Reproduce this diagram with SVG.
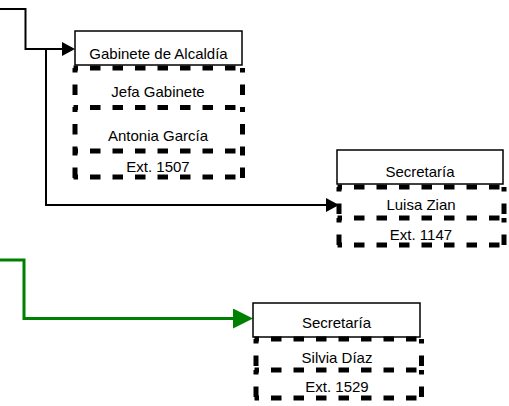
<svg xmlns="http://www.w3.org/2000/svg" width="509" height="406" viewBox="0 0 509 406">
<style>
.hdr{fill:#ffffff;stroke:#000000;stroke-width:1.5}
.cell{fill:none;stroke:#000000;stroke-width:5;stroke-dasharray:10.5 12;stroke-dashoffset:6}
.t{font-family:"Liberation Sans",Arial,sans-serif;font-size:15px;fill:#000000;text-anchor:middle}
.blk{fill:none;stroke:#000000;stroke-width:2}
.grn{fill:none;stroke:#008000;stroke-width:3}
</style>
<defs>
<marker id="ab" markerUnits="userSpaceOnUse" viewBox="0 0 13 14" refX="0" refY="7" markerWidth="13" markerHeight="14" orient="auto">
<path d="M0 0 L13 7 L0 14 Z" fill="#000000"/>
</marker>
<marker id="ag" markerUnits="userSpaceOnUse" viewBox="0 0 20 20" refX="0" refY="10" markerWidth="20" markerHeight="20" orient="auto">
<path d="M0 0 L20 10 L0 20 Z" fill="#008000"/>
</marker>
</defs>
<rect width="509" height="406" fill="#ffffff"/>
<g id="connectors">
<path class="blk" d="M0 9 H25.5 V49 H62" marker-end="url(#ab)"/>
<path class="blk" d="M46 49 V205 H326" marker-end="url(#ab)"/>
<path class="grn" d="M0 260 H24 V318.5 H233" marker-end="url(#ag)"/>
</g>
<g id="gabinete">
<rect class="hdr" x="75" y="31" width="167" height="34"/>
<text class="t" x="158.5" y="59">Gabinete de Alcaldía</text>
<path class="cell" d="M73.5 68 H245 M73.5 107.5 H245 M73.5 151 H245 M73.5 177 H245 M75 68 V107.5 M75 107.5 V151 M75 151 V179.5 M242.5 68 V107.5 M242.5 107.5 V151 M242.5 151 V179.5"/>
<text class="t" x="158" y="97">Jefa Gabinete</text>
<text class="t" x="158" y="141">Antonia García</text>
<text class="t" x="158" y="172">Ext. 1507</text>
</g>
<g id="secretaria1">
<rect class="hdr" x="337" y="150" width="166" height="34"/>
<text class="t" x="420" y="177">Secretaría</text>
<path class="cell" d="M337.5 187 H506.5 M337.5 218 H506.5 M337.5 245 H506.5 M339 187 V218 M339 218 V247.5 M504 187 V218 M504 218 V247.5"/>
<text class="t" x="421" y="210">Luisa Zian</text>
<text class="t" x="421" y="240">Ext. 1147</text>
</g>
<g id="secretaria2">
<rect class="hdr" x="253" y="303" width="167" height="34"/>
<text class="t" x="336.5" y="328">Secretaría</text>
<path class="cell" d="M254.5 339 H424 M254.5 370 H424 M254.5 398 H424 M256 339 V370 M256 370 V400.5 M421.5 339 V370 M421.5 370 V400.5"/>
<text class="t" x="337" y="362.5">Silvia Díaz</text>
<text class="t" x="337" y="392">Ext. 1529</text>
</g>
</svg>
